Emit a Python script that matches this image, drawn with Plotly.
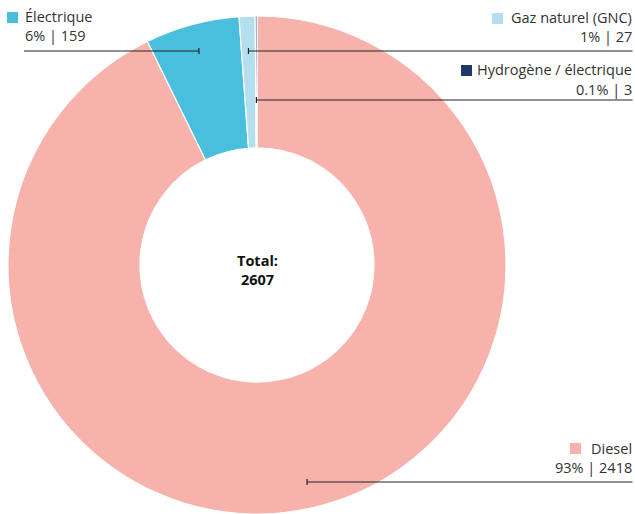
import math
import plotly.graph_objects as go

# ---- data ----
categories = ["Diesel", "Électrique", "Gaz naturel (GNC)", "Hydrogène / électrique"]
values = [2418, 159, 27, 3]
pct_labels = ["93%", "6%", "1%", "0.1%"]
colors = ["#F7B2AC", "#4ABFDD", "#B3DFEE", "#1F3A68"]
total_label = "Total:<br>2607"

W, H = 635, 514
FONT = "Open Sans"
FS = 14.5
TXT = "#333333"

# pie geometry in page pixels
cx, cy, R = 257, 266, 250

def px(x): return x / W
def py(y): return 1 - y / H

dom_x = [px(cx - R), px(cx + R)]
dom_y = [max(0, py(cy + R)), min(1, py(cy - R))]
fig = go.Figure(go.Pie(
    labels=categories, values=values, hole=0.47, sort=False,
    direction="clockwise", rotation=0,
    marker=dict(colors=colors, line=dict(color="white", width=1.2)),
    textinfo="none", hoverinfo="label+value+percent",
    domain=dict(x=dom_x, y=dom_y), showlegend=False,
))

# label layout: (anchor side, text x, name y, value y, square x, square y, line y)
layout_spec = [
    ("right", 634, 448, 467, 570, 443, 482),
    ("left", 23, 17, 36, 7, 12, 51),
    ("right", 634, 18, 37, 492, 13, 51),
    ("right", 634, 70, 89, 461, 65, 100),
]

tot = sum(values)
annotations = []
shapes = []
cum = 0
for i, (cat, v) in enumerate(zip(categories, values)):
    mid = (cum + v / 2) / tot * 2 * math.pi
    cum += v
    side, tx, ny, vy, sx, sy, ly = layout_spec[i]
    dy = cy - ly
    ex = cx + math.tan(mid) * dy
    xa = "left" if side == "left" else "right"
    annotations.append(dict(x=px(tx), y=py(ny), xref="paper", yref="paper",
                            text=cat, showarrow=False, xanchor=xa, yanchor="middle",
                            font=dict(family=FONT, size=FS, color=TXT)))
    annotations.append(dict(x=px(tx), y=py(vy), xref="paper", yref="paper",
                            text=f"{pct_labels[i]} | {v}", showarrow=False, xanchor=xa,
                            yanchor="middle", font=dict(family=FONT, size=FS, color=TXT)))
    shapes.append(dict(type="rect", xref="paper", yref="paper",
                       x0=px(sx), x1=px(sx + 11), y0=py(sy), y1=py(sy + 11),
                       fillcolor=colors[i], line=dict(width=0)))
    lx0, lx1 = (24, ex) if side == "left" else (ex, 632.5)
    shapes.append(dict(type="line", xref="paper", yref="paper",
                       x0=px(lx0), x1=px(lx1), y0=py(ly), y1=py(ly),
                       line=dict(color="#222222", width=1.2)))
    shapes.append(dict(type="line", xref="paper", yref="paper",
                       x0=px(ex), x1=px(ex), y0=py(ly - 3), y1=py(ly + 3),
                       line=dict(color="#222222", width=1.2)))

annotations.append(dict(x=px(cx), y=py(cy + 4), xref="paper", yref="paper",
                        text=f"<b>{total_label}</b>", showarrow=False,
                        font=dict(family=FONT, size=FS, color="#111111")))

fig.update_layout(
    width=W, height=H, margin=dict(l=0, r=0, t=0, b=0),
    paper_bgcolor="white", plot_bgcolor="white",
    annotations=annotations, shapes=shapes,
)
fig.write_html("out.html", config={"displayModeBar": False},
               post_script="document.body.style.margin='0';document.body.style.overflow='hidden';")
